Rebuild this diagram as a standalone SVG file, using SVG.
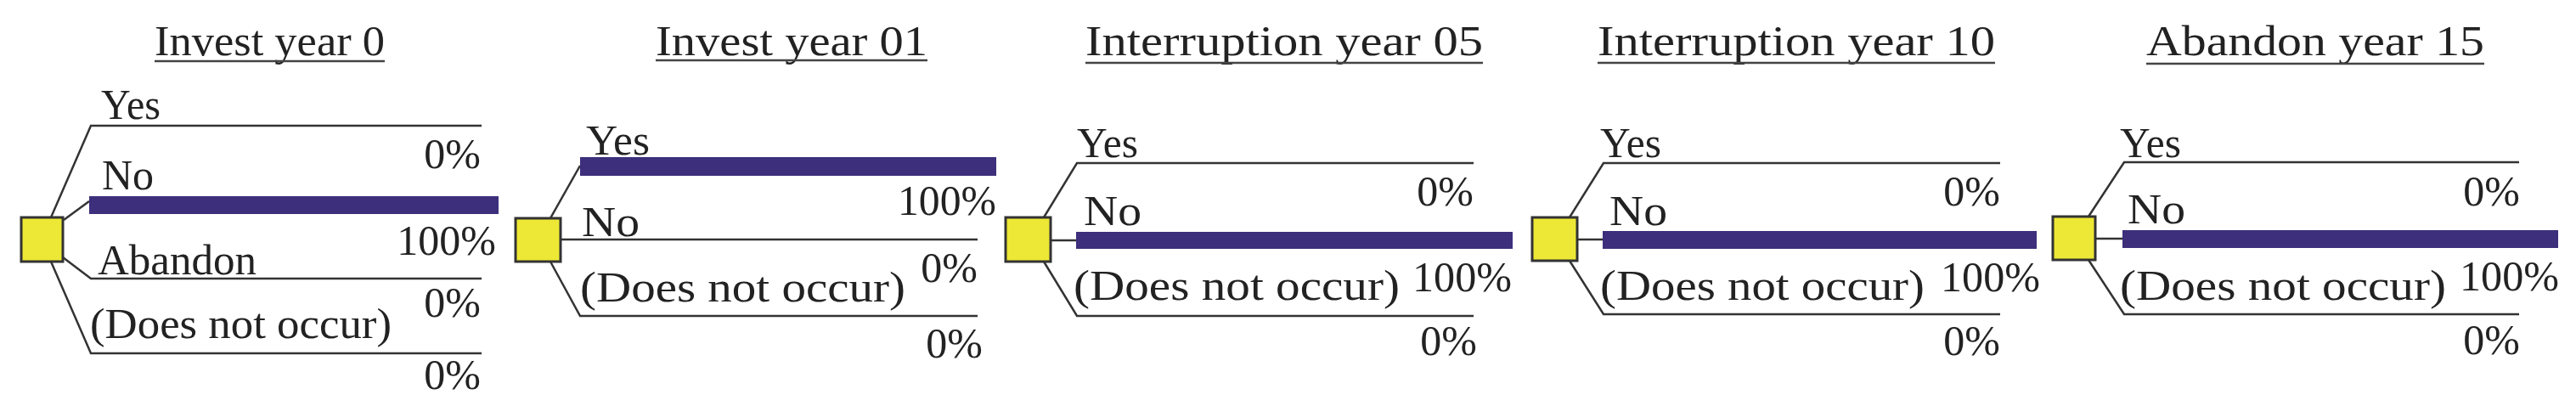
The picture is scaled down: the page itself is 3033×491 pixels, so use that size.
<svg xmlns="http://www.w3.org/2000/svg" width="3033" height="491" viewBox="0 0 3033 491">
<style>
text{font-family:"Liberation Serif","Times New Roman",serif;fill:#222;}
.t{font-size:50px;}
.l{font-size:50px;}
.r{text-anchor:end;}
.ul{stroke:#444;stroke-width:2.5;fill:none;}
.br{stroke:#333;stroke-width:2.5;fill:none;}
.bar{fill:#3d2f7b;}
.dec{fill:#ece835;stroke:#333;stroke-width:3;}
</style>
<rect width="3033" height="491" fill="#fff"/>
<g id="connectors">
  <!-- panel 1 -->
  <path class="br" d="M60,256 L107,148 L567,148"/>
  <path class="br" d="M75,259 L105,237"/>
  <rect class="bar" x="105" y="231" width="482" height="21"/>
  <path class="br" d="M74,303 L107,328 L567,328"/>
  <path class="br" d="M60,308 L107,416 L567,416"/>
  <!-- panel 2 -->
  <path class="br" d="M648,257 L683,195"/>
  <rect class="bar" x="683" y="185" width="490" height="22"/>
  <path class="br" d="M660,282 L1151,282"/>
  <path class="br" d="M648,308 L683,372 L1151,372"/>
  <!-- panel 3 -->
  <path class="br" d="M1229,256 L1268,192 L1735,192"/>
  <path class="br" d="M1237,283 L1267,283"/>
  <rect class="bar" x="1267" y="273" width="514" height="20"/>
  <path class="br" d="M1229,308 L1268,372 L1735,372"/>
  <!-- panel 4 -->
  <path class="br" d="M1848,256 L1888,192 L2355,192"/>
  <path class="br" d="M1857,282 L1887,282"/>
  <rect class="bar" x="1887" y="272" width="511" height="21"/>
  <path class="br" d="M1848,307 L1888,370 L2355,370"/>
  <!-- panel 5 -->
  <path class="br" d="M2459,255 L2501,191 L2966,191"/>
  <path class="br" d="M2467,281 L2499,281"/>
  <rect class="bar" x="2499" y="271" width="513" height="21"/>
  <path class="br" d="M2459,306 L2501,370 L2966,370"/>
</g>
<g id="node-invest-year-0">
  <text class="t" x="182" y="65" textLength="271" lengthAdjust="spacingAndGlyphs">Invest year 0</text>
  <line class="ul" x1="182" y1="72" x2="453" y2="72"/>
  <rect class="dec" x="25" y="256" width="49" height="52"/>
  <text class="l" x="119" y="140" textLength="70" lengthAdjust="spacingAndGlyphs">Yes</text>
  <text class="l r" x="566" y="198">0%</text>
  <text class="l" x="120" y="223">No</text>
  <text class="l r" x="584" y="300">100%</text>
  <text class="l" x="115" y="323" textLength="187" lengthAdjust="spacingAndGlyphs">Abandon</text>
  <text class="l r" x="566" y="373">0%</text>
  <text class="l" x="106" y="398" textLength="355" lengthAdjust="spacingAndGlyphs">(Does not occur)</text>
  <text class="l r" x="566" y="458">0%</text>
</g>
<g id="node-invest-year-01">
  <text class="t" x="772" y="65" textLength="320" lengthAdjust="spacingAndGlyphs">Invest year 01</text>
  <line class="ul" x1="772" y1="71" x2="1092" y2="71"/>
  <rect class="dec" x="607" y="257" width="53" height="51"/>
  <text class="l" x="690" y="182" textLength="75" lengthAdjust="spacingAndGlyphs">Yes</text>
  <text class="l r" x="1173" y="253" textLength="116" lengthAdjust="spacingAndGlyphs">100%</text>
  <text class="l" x="685" y="278" textLength="68" lengthAdjust="spacingAndGlyphs">No</text>
  <text class="l r" x="1151" y="332">0%</text>
  <text class="l" x="683" y="355" textLength="383" lengthAdjust="spacingAndGlyphs">(Does not occur)</text>
  <text class="l r" x="1157" y="421">0%</text>
</g>
<g id="node-interruption-year-05">
  <text class="t" x="1278" y="65" textLength="468" lengthAdjust="spacingAndGlyphs">Interruption year 05</text>
  <line class="ul" x1="1278" y1="74" x2="1746" y2="74"/>
  <rect class="dec" x="1184" y="256" width="53" height="52"/>
  <text class="l" x="1268" y="185" textLength="72" lengthAdjust="spacingAndGlyphs">Yes</text>
  <text class="l r" x="1735" y="242">0%</text>
  <text class="l" x="1276" y="265" textLength="68" lengthAdjust="spacingAndGlyphs">No</text>
  <text class="l r" x="1780" y="343" textLength="117" lengthAdjust="spacingAndGlyphs">100%</text>
  <text class="l" x="1264" y="353" textLength="384" lengthAdjust="spacingAndGlyphs">(Does not occur)</text>
  <text class="l r" x="1739" y="418">0%</text>
</g>
<g id="node-interruption-year-10">
  <text class="t" x="1881" y="65" textLength="468" lengthAdjust="spacingAndGlyphs">Interruption year 10</text>
  <line class="ul" x1="1881" y1="74" x2="2349" y2="74"/>
  <rect class="dec" x="1804" y="256" width="53" height="51"/>
  <text class="l" x="1884" y="185" textLength="72" lengthAdjust="spacingAndGlyphs">Yes</text>
  <text class="l r" x="2355" y="242">0%</text>
  <text class="l" x="1895" y="265" textLength="68" lengthAdjust="spacingAndGlyphs">No</text>
  <text class="l r" x="2402" y="343" textLength="117" lengthAdjust="spacingAndGlyphs">100%</text>
  <text class="l" x="1884" y="353" textLength="382" lengthAdjust="spacingAndGlyphs">(Does not occur)</text>
  <text class="l r" x="2355" y="418">0%</text>
</g>
<g id="node-abandon-year-15">
  <text class="t" x="2527" y="65" textLength="398" lengthAdjust="spacingAndGlyphs">Abandon year 15</text>
  <line class="ul" x1="2527" y1="75" x2="2925" y2="75"/>
  <rect class="dec" x="2417" y="255" width="50" height="51"/>
  <text class="l" x="2496" y="185" textLength="72" lengthAdjust="spacingAndGlyphs">Yes</text>
  <text class="l r" x="2967" y="242">0%</text>
  <text class="l" x="2505" y="263" textLength="68" lengthAdjust="spacingAndGlyphs">No</text>
  <text class="l r" x="3013" y="342" textLength="117" lengthAdjust="spacingAndGlyphs">100%</text>
  <text class="l" x="2496" y="353" textLength="384" lengthAdjust="spacingAndGlyphs">(Does not occur)</text>
  <text class="l r" x="2967" y="417">0%</text>
</g>
</svg>
